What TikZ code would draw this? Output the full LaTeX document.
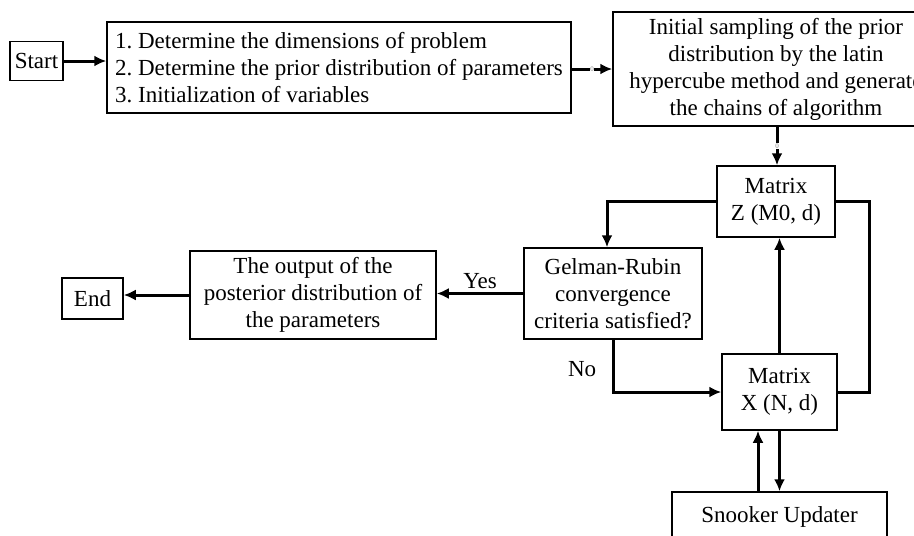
\documentclass[tikz,border=0pt]{standalone}
\usepackage{fontspec}
\setmainfont{Liberation Serif}
\usetikzlibrary{arrows.meta, positioning}
\frenchspacing

\begin{document}
\begin{tikzpicture}[x=1pt, y=-1pt, node distance=0pt]
    % Styles des blocs et des liens
    \tikzset{
        box/.style  = {rectangle, draw, line width=1.5pt, align=center, inner sep=2pt, font=\fontsize{23}{27}\selectfont},
        line/.style = {draw, line width=3pt, -{Latex[length=12pt, width=11pt]}},
        link/.style = {draw, line width=3pt},
        tag/.style  = {fill=white, text=gray, inner sep=0.3pt, font=\fontsize{7}{7}\selectfont},
        lbl/.style  = {font=\fontsize{23}{27}\selectfont}
    }
    \useasboundingbox (0,0) rectangle (914,536);

    % Ligne du haut
    \node [box, minimum width=53, minimum height=39] (start) at (36.5,61) {Start};
    \node [box, minimum width=464, minimum height=91, align=left, right of=start, xshift=302.5, yshift=-6.5] (steps) {1. Determine the dimensions of problem\\2. Determine the prior distribution of parameters\\3. Initialization of variables};
    \node [box, minimum width=326, minimum height=114, right of=steps, xshift=437, yshift=-1.5] (sampling) {Initial sampling of the prior\\distribution by the latin\\hypercube method and generate\\the chains of algorithm};

    % Colonne des matrices
    \node [box, minimum width=118, minimum height=71, below of=sampling, yshift=-132.5] (matz) {Matrix\\Z (M0, d)};
    \node [box, minimum width=115, minimum height=76, below of=matz, xshift=3.5, yshift=-190.5] (matx) {Matrix\\X (N, d)};
    \node [box, minimum width=215, minimum height=50, below of=matx, yshift=-125] (snooker) {Snooker Updater};

    % Test et sortie
    \node [box, minimum width=178, minimum height=91, left of=matz, xshift=-163, yshift=-92] (gelman) {Gelman-Rubin\\convergence\\criteria satisfied?};
    \node [box, minimum width=246, minimum height=88, left of=gelman, xshift=-300, yshift=-1.5] (output) {The output of the\\posterior distribution of\\the parameters};
    \node [box, minimum width=61, minimum height=41, left of=output, xshift=-220.5, yshift=-3.5] (finish) {End};

    % Connexions
    \path [line] (start.east) -- (start.east -| steps.west);
    \path [line] ([yshift=-1.5]steps.east) -- node[tag] {0} ([yshift=-1.5]steps.east -| sampling.west);
    \path [line] ([xshift=1]sampling.south) -- node[tag] {0} ([xshift=1]matz.north);

    \path [line] (matz.west) -| ([xshift=-6]gelman.north);
    \path [link] (matz.east) -- ++(34,0) |- (matx.east);
    \path [line] (matx.north) -- (matx.north |- matz.south);

    \path [line] (gelman.south) |- node[lbl, pos=0.28, left=12pt] {No} (matx.west);
    \path [line] (gelman.west) -- node[lbl, above] {Yes} (gelman.west -| output.east);
    \path [line] (output.west) -- (output.west -| finish.east);

    \path [line] ([xshift=-21.5]snooker.north) -- ([xshift=-21.5]snooker.north |- matx.south);
    \path [line] (matx.south) -- (matx.south |- snooker.north);
\end{tikzpicture}
\end{document}
